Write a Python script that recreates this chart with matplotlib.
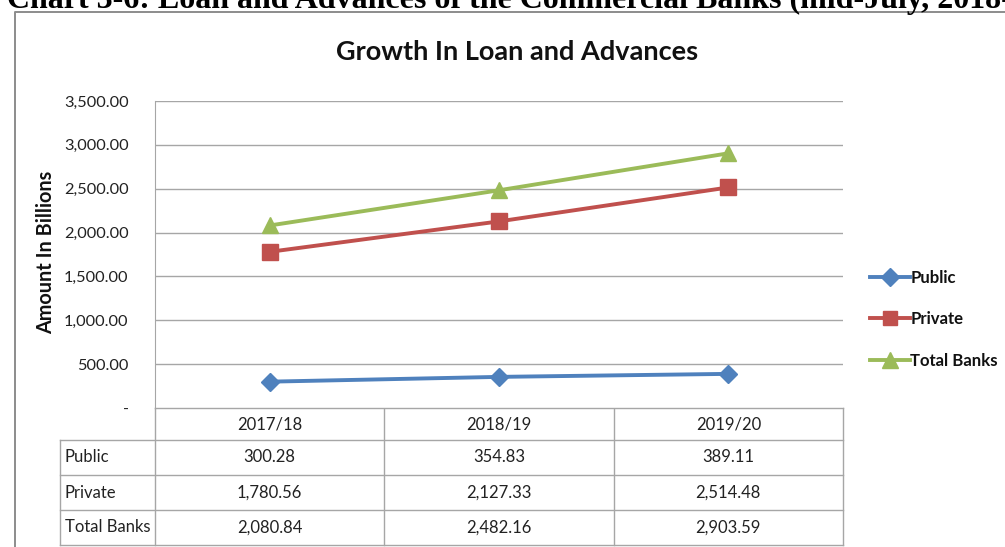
import matplotlib
matplotlib.use("Agg")
import matplotlib.pyplot as plt
from matplotlib.lines import Line2D

categories = ["2017/18", "2018/19", "2019/20"]
series_names = ["Public", "Private", "Total Banks"]
public = [300.28, 354.83, 389.11]
private = [1780.56, 2127.33, 2514.48]
total = [2080.84, 2482.16, 2903.59]
yticks = [0, 500, 1000, 1500, 2000, 2500, 3000, 3500]

W, H = 1005, 547
fig = plt.figure(figsize=(W / 100, H / 100), dpi=100)
FONT = "Lato"
TXT = "#222222"

def fx(px):
    return px / W

def fy(py):
    return 1 - py / H

# overlay axes in pixel coordinates for frame and table
ov = fig.add_axes([0, 0, 1, 1])
ov.set_xlim(0, W)
ov.set_ylim(H, 0)
ov.axis("off")

gray = "#a6a6a6"
# outer chart border
ov.plot([15, 15, W + 5], [H + 5, 12, 12], color="#8c8c8c", lw=1.4)
# header (cut off at the top, as in the source page)
ov.text(7, 8, "Chart 3-6: Loan and Advances of the Commercial Banks (mid-July, 2018-2020)",
        family="Liberation Serif", fontweight="bold", fontsize=23, va="baseline", ha="left")

# main axes
L, R, T, B = 155, 843, 101, 408
ax = fig.add_axes([fx(L), fy(B), fx(R) - fx(L), fy(T) - fy(B)])
ax.set_xlim(-0.5, len(categories) - 0.5)
ax.set_ylim(0, 3500)
ax.set_yticks(yticks)
ax.set_yticklabels([f"{v:,.2f}" if v else "-" for v in yticks],
                   family=FONT, fontsize=11.8, color=TXT)
ax.tick_params(axis="y", length=0, pad=19)
ax.set_xticks([])
ax.grid(axis="y", color=gray, lw=1)
ax.set_axisbelow(True)
for s in ["top", "right", "bottom"]:
    ax.spines[s].set_visible(False)
ax.spines["left"].set_color(gray)

x = list(range(len(categories)))
styles = [("#4F81BD", "D", 9.5), ("#C0504D", "s", 11), ("#9BBB59", "^", 11.5)]
for vals, name, (c, m, ms) in zip([public, private, total], series_names, styles):
    ax.plot(x, vals, color=c, lw=2.8, marker=m, markersize=ms, label=name)

ax.set_ylabel("Amount In Billions", family=FONT, fontweight="bold", fontsize=14.3, color="#111111")
ax.yaxis.set_label_coords((56 - L) / (R - L), (B - 252) / (B - T))

leg = fig.legend(handles=[Line2D([0], [0], color=c, lw=2.8, marker=m, markersize=ms * 0.95)
                          for (c, m, ms) in styles],
                 labels=series_names, loc="upper left",
                 bbox_to_anchor=(fx(855), fy(255)), frameon=False,
                 prop={"family": FONT, "weight": "bold", "size": 12.1},
                 handlelength=2.35, handletextpad=0.05, labelspacing=1.5)
for t in leg.get_texts():
    t.set_color("#111111")

# data table
col_edges = [L + (R - L) * i / len(categories) for i in range(len(categories) + 1)]
row_edges = [408, 440, 475, 510, 545]
lab_left = 60
for xe in col_edges:
    ov.plot([xe, xe], [B, row_edges[-1]], color=gray, lw=1)
ov.plot([lab_left, lab_left], [row_edges[1], row_edges[-1]], color=gray, lw=1)
for j, ye in enumerate(row_edges):
    x0 = L if j == 0 else lab_left
    ov.plot([x0, R], [ye, ye], color=gray, lw=1)

for i, cat in enumerate(categories):
    cx = (col_edges[i] + col_edges[i + 1]) / 2
    ov.text(cx, (row_edges[0] + row_edges[1]) / 2 + 1, cat, family=FONT, fontsize=12,
            ha="center", va="center", color=TXT)
    for r, vals in enumerate([public, private, total]):
        ov.text(cx, (row_edges[r + 1] + row_edges[r + 2]) / 2, f"{vals[i]:,.2f}",
                family=FONT, fontsize=12, ha="center", va="center", color=TXT)
for r, name in enumerate(series_names):
    ov.text(lab_left + 5, (row_edges[r + 1] + row_edges[r + 2]) / 2, name,
            family=FONT, fontsize=12, ha="left", va="center", color=TXT)

fig.text(fx(517), fy(52), "Growth In Loan and Advances", family=FONT, fontweight="bold",
         fontsize=19.5, ha="center", va="center", color="#111111")

fig.savefig("out.png", dpi=100)
